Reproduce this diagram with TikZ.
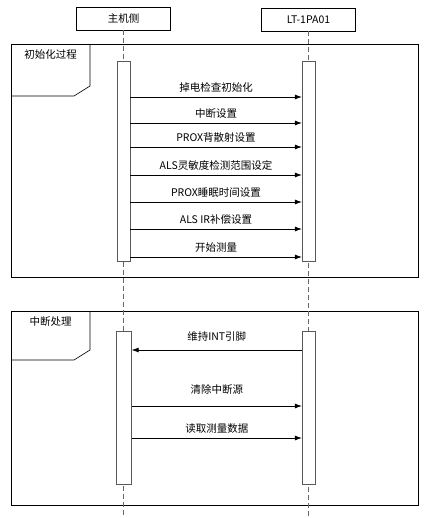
\documentclass[tikz,border=0pt]{standalone}
\usepackage{fontspec}
\setmainfont{Noto Sans CJK SC}
\usetikzlibrary{arrows.meta}
\usetikzlibrary{positioning}

\tikzset{
  headbox/.style={draw,minimum width=94pt,minimum height=23pt,inner sep=0pt},
  lifeline/.style={draw=gray!80!black,line width=1.2pt,dash pattern=on 5pt off 3pt},
  actbar/.style={draw=gray!70!black,fill=white,minimum width=13pt,inner sep=0pt},
  msg/.style={draw,line width=0.6pt,-{Latex[length=7pt,width=5pt]}},
  msglab/.style={inner sep=0pt,above=4pt},
  framebox/.style={draw,line width=0.6pt}
}

\begin{document}
\begin{tikzpicture}[x=1pt,y=-1pt,font=\fontsize{10.5}{12}\selectfont]
  \useasboundingbox (0,0) rectangle (433,518);

  % frames
  \path [framebox] (11,44) rectangle (418,277);
  \path [framebox] (11,96) -- (74,96) -- (90,86) -- (90,44);
  \node (initlab) at (50.5,55) {初始化过程};

  \path [framebox] (11,311) rectangle (418,505);
  \path [framebox] (11,360) -- (74,360) -- (90,350) -- (90,311);
  \node (irqlab) at (50.5,322) {中断处理};

  % participants
  \node [headbox] (host) at (123.5,18.5) {主机侧};
  \node [headbox] (dev) at (308.5,19.5) {LT-1PA01};
  \coordinate (bottom) at (0,518);

  \path [lifeline] (host.south) -- (host.south |- bottom);
  \path [lifeline] (dev.south) -- (dev.south |- bottom);

  % activations
  \node [actbar,minimum height=200pt] (hbar1) at (123.5,161) {};
  \node [actbar,minimum height=200pt] (dbar1) at (308.5,161) {};
  \node [actbar,minimum height=153pt,minimum width=15pt] (hbar2) at (124,407.5) {};
  \node [actbar,minimum height=153pt] (dbar2) at (308.5,407.5) {};

  % message heights
  \foreach \n/\y in {a1/97,a2/123,a3/147,a4/175,a5/202,a6/229,a7/257,b1/350,b2/406,b3/438}
    \coordinate (\n) at (0,\y);

  \path [msg] (hbar1.east |- a1) -- node [msglab,name=m1] {掉电检查初始化} (dbar1.west |- a1);
  \path [msg] (hbar1.east |- a2) -- node [msglab,name=m2] {中断设置} (dbar1.west |- a2);
  \path [msg] (hbar1.east |- a3) -- node [msglab,name=m3] {PROX背散射设置} (dbar1.west |- a3);
  \path [msg] (hbar1.east |- a4) -- node [msglab,name=m4] {ALS灵敏度检测范围设定} (dbar1.west |- a4);
  \path [msg] (hbar1.east |- a5) -- node [msglab,name=m5] {PROX睡眠时间设置} (dbar1.west |- a5);
  \path [msg] (hbar1.east |- a6) -- node [msglab,name=m6] {ALS IR补偿设置} (dbar1.west |- a6);
  \path [msg] (hbar1.east |- a7) -- node [msglab,name=m7] {开始测量} (dbar1.west |- a7);

  \path [msg] (dbar2.west |- b1) -- node [msglab,name=n1,above=8pt] {维持INT引脚} (hbar2.east |- b1);
  \path [msg] (hbar2.east |- b2) -- node [msglab,name=n2,above=11pt] {清除中断源} (dbar2.west |- b2);
  \path [msg] (hbar2.east |- b3) -- node [msglab,name=n3] {读取测量数据} (dbar2.west |- b3);
\end{tikzpicture}
\end{document}
